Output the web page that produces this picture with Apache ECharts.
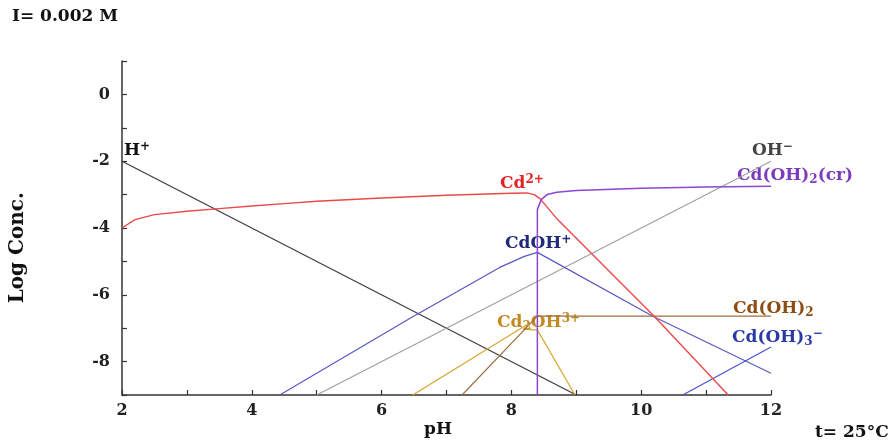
<!DOCTYPE html>
<html>
<head>
<meta charset="utf-8">
<script src="https://cdn.jsdelivr.net/npm/echarts@6/dist/echarts.min.js"></script>
<style>
  html, body { margin: 0; padding: 0; background: #fff; }
  #main { width: 893px; height: 441px; }
</style>
</head>
<body>
<div id="main"></div>
<script>
// pH values and log concentrations
const hPH = [2, 9];
const hLog = [-2, -9];
const ohPH = [5, 12];
const ohLog = [-9, -2];
const cdPH = [2, 2.2, 2.5, 3, 3.5, 4, 4.5, 5, 6, 7, 8, 8.24, 8.35, 8.44, 8.7, 10.2, 11.34];
const cdLog = [-4.0, -3.75, -3.6, -3.5, -3.42, -3.34, -3.27, -3.2, -3.1, -3.02, -2.96, -2.95, -3.0, -3.12, -3.72, -6.64, -9];
const crPH = [8.4, 8.4, 8.46, 8.55, 8.7, 9, 10, 11, 12];
const crLog = [-9, -3.45, -3.15, -3.0, -2.93, -2.88, -2.81, -2.77, -2.75];
const cdohPH = [4.43, 6.44, 7.82, 8.2, 8.4, 10.18, 12];
const cdohLog = [-9, -6.7, -5.18, -4.85, -4.73, -6.64, -8.35];
const cdoh3PH = [10.64, 12];
const cdoh3Log = [-9, -7.56];
const cdoh2PH = [7.24, 8.4, 12];
const cdoh2Log = [-9, -6.64, -6.64];
const cd2ohPH = [6.48, 8.25, 8.3, 8.4, 8.98];
const cd2ohLog = [-9, -6.88, -7.05, -7.05, -9];

const FONT = 'DejaVu Serif';
const pairs = (xs, ys) => xs.map((x, i) => [x, ys[i]]);

const line = (name, xs, ys, color, width) => ({
  name: name,
  type: 'line',
  data: pairs(xs, ys),
  showSymbol: false,
  lineStyle: { color: color, width: width || 1.2 },
  animation: false
});

// 化学式标签 (上标/下标用 padding 偏移)
const richOf = (color) => ({
  b: { fontFamily: FONT, fontWeight: 'bold', fontSize: 17, color: color },
  sup: { fontFamily: FONT, fontWeight: 'bold', fontSize: 12, color: color, padding: [0, 0, 7, 0] },
  sub: { fontFamily: FONT, fontWeight: 'bold', fontSize: 12, color: color, padding: [9, 0, 0, 0] }
});
const label = (left, top, text, color) => ({
  type: 'text',
  left: left,
  top: top,
  style: {
    text: text,
    fill: color,
    font: 'bold 17px "' + FONT + '"',
    rich: richOf(color)
  }
});
const plain = (left, top, text, size, rotation) => ({
  type: 'text',
  left: left,
  top: top,
  rotation: rotation || 0,
  style: { text: text, fill: '#111', font: 'bold ' + size + 'px "' + FONT + '"' }
});

const myChart = echarts.init(document.getElementById('main'));
const option = {
  animation: false,
  grid: { left: 122, right: 122, top: 61, bottom: 46 },
  xAxis: {
    type: 'value',
    min: 2,
    max: 12,
    interval: 1,
    axisLine: { onZero: false, lineStyle: { color: '#333', width: 1.5 } },
    axisTick: { inside: true, length: 5, lineStyle: { color: '#333', width: 1.2 } },
    splitLine: { show: false },
    axisLabel: {
      color: '#222',
      fontFamily: FONT,
      fontWeight: 'bold',
      fontSize: 16,
      margin: 8,
      formatter: (v) => (v % 2 === 0 ? v : '')
    }
  },
  yAxis: {
    type: 'value',
    min: -9,
    max: 1,
    interval: 1,
    axisLine: { show: true, onZero: false, lineStyle: { color: '#333', width: 1.5 } },
    axisTick: { show: true, inside: true, length: 5, lineStyle: { color: '#333', width: 1.2 } },
    splitLine: { show: false },
    axisLabel: {
      color: '#222',
      fontFamily: FONT,
      fontWeight: 'bold',
      fontSize: 16,
      margin: 12,
      formatter: (v) => (v % 2 === 0 ? v : '')
    }
  },
  series: [
    line('H+', hPH, hLog, '#3c3c3c'),
    line('OH-', ohPH, ohLog, '#a0a0a0'),
    line('CdOH+', cdohPH, cdohLog, '#5b57c4'),
    line('Cd(OH)3-', cdoh3PH, cdoh3Log, '#4a52cc'),
    line('Cd(OH)2', cdoh2PH, cdoh2Log, '#a07040'),
    line('Cd2OH3+', cd2ohPH, cd2ohLog, '#d9a531'),
    line('Cd2+', cdPH, cdLog, '#ea4a48', 1.4),
    line('Cd(OH)2(cr)', crPH, crLog, '#9143d2', 1.5)
  ],
  graphic: [
    plain(12, 8, 'I= 0.002 M', 17),
    plain(815, 424, 't= 25°C', 17),
    plain(424, 421, 'pH', 17),
    plain(8, 192, 'Log Conc.', 20, Math.PI / 2),
    label(124, 141, '{b|H}{sup|+}', '#111'),
    label(500, 174, '{b|Cd}{sup|2+}', '#e32424'),
    label(505, 234, '{b|CdOH}{sup|+}', '#1f2a78'),
    label(497, 313, '{b|Cd}{sub|2}{b|OH}{sup|3+}', '#c28a22'),
    label(752, 141, '{b|OH}{sup|−}', '#444'),
    label(737, 167, '{b|Cd(OH)}{sub|2}{b|(cr)}', '#7b3bbd'),
    label(733, 300, '{b|Cd(OH)}{sub|2}', '#8d4d12'),
    label(732, 328, '{b|Cd(OH)}{sub|3}{sup|−}', '#2b3aa8')
  ]
};
myChart.setOption(option);
</script>
</body>
</html>
